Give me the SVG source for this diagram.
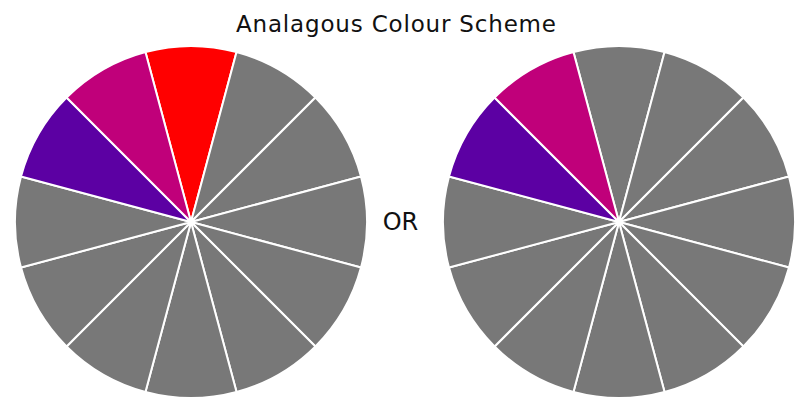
<svg xmlns="http://www.w3.org/2000/svg" xmlns:xlink="http://www.w3.org/1999/xlink" width="800" height="405" viewBox="0 0 800 405">
<style>
.sec{stroke:#ffffff;stroke-width:2;stroke-linejoin:round}
.g{fill:#787878}
.red{fill:#ff0000}
.mag{fill:#c0007a}
.pur{fill:#5c00a3}
.lbl{font-family:"DejaVu Sans","Liberation Sans",sans-serif;fill:#111111}
</style>
<defs>
<path id="sec" d="M0,0 L-45.55,-170 A176,176 0 0,1 45.55,-170 Z"/>
</defs>
<rect width="800" height="405" fill="#ffffff"/>
<text class="lbl" x="396" y="32" font-size="23" text-anchor="middle" textLength="320" lengthAdjust="spacing">Analagous Colour Scheme</text>
<g id="wheel-left" transform="translate(191,222)">
<use xlink:href="#sec" class="sec red"/>
<use xlink:href="#sec" class="sec g" transform="rotate(30)"/>
<use xlink:href="#sec" class="sec g" transform="rotate(60)"/>
<use xlink:href="#sec" class="sec g" transform="rotate(90)"/>
<use xlink:href="#sec" class="sec g" transform="rotate(120)"/>
<use xlink:href="#sec" class="sec g" transform="rotate(150)"/>
<use xlink:href="#sec" class="sec g" transform="rotate(180)"/>
<use xlink:href="#sec" class="sec g" transform="rotate(210)"/>
<use xlink:href="#sec" class="sec g" transform="rotate(240)"/>
<use xlink:href="#sec" class="sec g" transform="rotate(270)"/>
<use xlink:href="#sec" class="sec pur" transform="rotate(300)"/>
<use xlink:href="#sec" class="sec mag" transform="rotate(330)"/>
</g>
<g id="or-label">
<text class="lbl" x="400.5" y="229.5" font-size="24" text-anchor="middle">OR</text>
</g>
<g id="wheel-right" transform="translate(619,222)">
<use xlink:href="#sec" class="sec g"/>
<use xlink:href="#sec" class="sec g" transform="rotate(30)"/>
<use xlink:href="#sec" class="sec g" transform="rotate(60)"/>
<use xlink:href="#sec" class="sec g" transform="rotate(90)"/>
<use xlink:href="#sec" class="sec g" transform="rotate(120)"/>
<use xlink:href="#sec" class="sec g" transform="rotate(150)"/>
<use xlink:href="#sec" class="sec g" transform="rotate(180)"/>
<use xlink:href="#sec" class="sec g" transform="rotate(210)"/>
<use xlink:href="#sec" class="sec g" transform="rotate(240)"/>
<use xlink:href="#sec" class="sec g" transform="rotate(270)"/>
<use xlink:href="#sec" class="sec pur" transform="rotate(300)"/>
<use xlink:href="#sec" class="sec mag" transform="rotate(330)"/>
</g>
<g id="connectors"/>
</svg>
